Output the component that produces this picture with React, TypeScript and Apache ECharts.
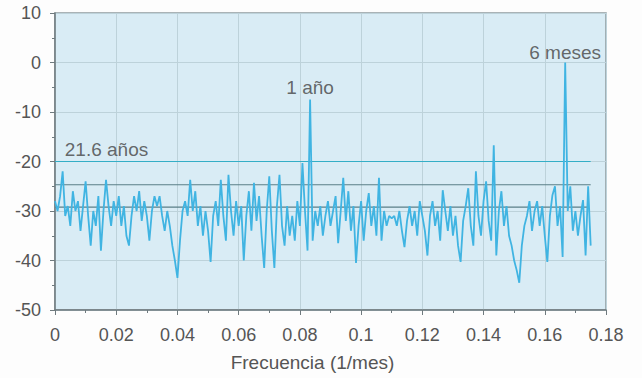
import React, { useEffect, useRef } from "react";
import * as echarts from "echarts";

// Frequency grid: 1/1200 cycles per month (index * step)
const FREQ_STEP = 1 / 1200;

// Spectrum values (dB), one per frequency step
const spectrum: number[] = [
  -28, -30, -27, -22, -31, -29, -33, -26, -30, -28,
  -34, -29, -24, -31, -37, -30, -33, -27, -38, -30,
  -23.7, -29, -33, -28, -31, -27, -33, -29, -35, -37,
  -31, -27, -30, -26, -32, -28, -31, -36, -30, -27,
  -29, -27, -31, -34, -30, -33, -37, -40, -43.5, -36,
  -30, -28, -31, -23.7, -30, -26, -33, -29, -35, -30,
  -34, -40.3, -31, -28, -33, -23.7, -31, -36, -22.7, -30,
  -35, -28, -33, -29, -40, -31, -26, -34, -24.3, -32,
  -27, -35, -41.5, -30, -23, -34, -41.5, -29, -22.7, -33,
  -37, -29, -35, -31, -36, -28, -33, -20.3, -30, -38,
  -7.5, -36, -30, -33, -29, -35, -31, -28, -33, -30,
  -27, -36.5, -30, -23.3, -32, -26, -34, -29, -40.5, -33,
  -28, -36, -30, -26.4, -33, -29, -35, -23.3, -36, -30,
  -33, -31, -31.5, -31, -33, -30, -34, -37.3, -32, -29,
  -33, -30, -35, -28, -31, -34, -39, -31, -28, -33,
  -30, -36, -25.8, -30, -34, -29, -35, -31, -37, -40.3,
  -32, -29, -25.4, -33, -37, -22, -31, -35, -28, -24,
  -32, -36, -16.7, -39, -30, -26, -33, -29, -35, -37,
  -40, -42, -44.5, -37, -33, -31, -28, -34, -30, -28,
  -33, -29, -35, -40.3, -31, -26.8, -25, -33, -29, -39.3,
  0, -30, -25, -34, -30, -35, -31, -27.8, -39, -25,
  -37,
];

// Horizontal significance levels (dB) and where each ends (1/mes)
const levelValues: number[] = [-20, -24.7, -29.2];
const levelEnds: number[] = [0.175, 0.175, 0.1738];
const levelColors: string[] = ["#34aec6", "#5a7f87", "#5a7f87"];

// Annotations
const annotationNames: string[] = ["21.6 años", "1 año", "6 meses"];
const annotationFreqs: number[] = [0.0032, 1 / 12, 1 / 6];
const annotationValues: number[] = [-20, -7.5, 0];

const xTicks: number[] = [0, 0.02, 0.04, 0.06, 0.08, 0.1, 0.12, 0.14, 0.16, 0.18];
const yTicks: number[] = [10, 0, -10, -20, -30, -40, -50];

export default function App() {
  const ref = useRef<HTMLDivElement>(null);

  useEffect(() => {
    if (!ref.current) return;
    const chart = echarts.init(ref.current, null, { renderer: "svg" });

    const specData = spectrum.map((v, i) => [i * FREQ_STEP, v]);
    const font = "Liberation Sans, Arial, sans-serif";

    const levelSeries = levelValues.map((v, k) => ({
      type: "line" as const,
      data: [
        [0, v],
        [levelEnds[k], v],
      ],
      showSymbol: false,
      silent: true,
      z: 1,
      itemStyle: { color: levelColors[k] },
      lineStyle: { color: levelColors[k], width: 1.2 },
    }));

    const annData = annotationNames.map((n, k) => ({
      name: n,
      value: [annotationFreqs[k], annotationValues[k]],
      label:
        k === 0
          ? { position: "top", align: "left", distance: 3 }
          : { position: "top", align: "center", distance: k === 2 ? 1 : 3 },
    }));

    chart.setOption({
      animation: false,
      backgroundColor: "#fdfdfd",
      grid: {
        left: 55,
        right: 36,
        top: 13,
        bottom: 68,
        show: true,
        backgroundColor: "#d9ecf5",
        borderColor: "#8e9a9e",
        borderWidth: 1.5,
      },
      xAxis: {
        type: "value",
        min: 0,
        max: 0.18,
        interval: 0.02,
        name: "Frecuencia (1/mes)",
        nameLocation: "middle",
        nameGap: 43,
        nameTextStyle: {
          color: "#555",
          fontSize: 19,
          fontFamily: font,
          padding: [0, 36, 0, 0],
        },
        axisLine: { show: true, onZero: false, lineStyle: { color: "#6f7a7e", width: 1.5 } },
        axisTick: { show: true, length: 5, lineStyle: { color: "#6f7a7e" } },
        minorTick: { show: true, splitNumber: 2, length: 3, lineStyle: { color: "#6f7a7e" } },
        splitLine: { show: true, lineStyle: { color: "#bdd2da", width: 1 } },
        axisLabel: {
          color: "#555",
          fontSize: 18,
          fontFamily: font,
          margin: 16,
          formatter: (v: number) => {
            const t = xTicks.find((x) => Math.abs(x - v) < 1e-9);
            return String(t !== undefined ? t : Math.round(v * 100) / 100);
          },
        },
      },
      yAxis: {
        type: "value",
        min: -50,
        max: 10,
        interval: 10,
        axisLine: { show: true, lineStyle: { color: "#6f7a7e", width: 1.5 } },
        axisTick: { show: true, length: 5, lineStyle: { color: "#6f7a7e" } },
        minorTick: { show: true, splitNumber: 2, length: 3, lineStyle: { color: "#6f7a7e" } },
        splitLine: { show: true, lineStyle: { color: "#bdd2da", width: 1 } },
        axisLabel: {
          color: "#555",
          fontSize: 18,
          fontFamily: font,
          margin: 14,
          formatter: (v: number) => {
            const t = yTicks.find((y) => Math.abs(y - v) < 1e-9);
            return String(t !== undefined ? t : v);
          },
        },
      },
      series: [
        ...levelSeries,
        {
          type: "line",
          data: specData,
          showSymbol: false,
          z: 2,
          lineStyle: { color: "#40b4e2", width: 1.8 },
        },
        {
          type: "scatter",
          data: annData,
          symbolSize: 0,
          z: 3,
          label: {
            show: true,
            formatter: "{b}",
            color: "#444",
            fontSize: 19,
            fontFamily: font,
          },
        },
      ],
    });

    return () => chart.dispose();
  }, []);

  return (
    <div
      ref={ref}
      style={{ position: "fixed", left: 0, top: 0, width: 642, height: 378 }}
    />
  );
}
